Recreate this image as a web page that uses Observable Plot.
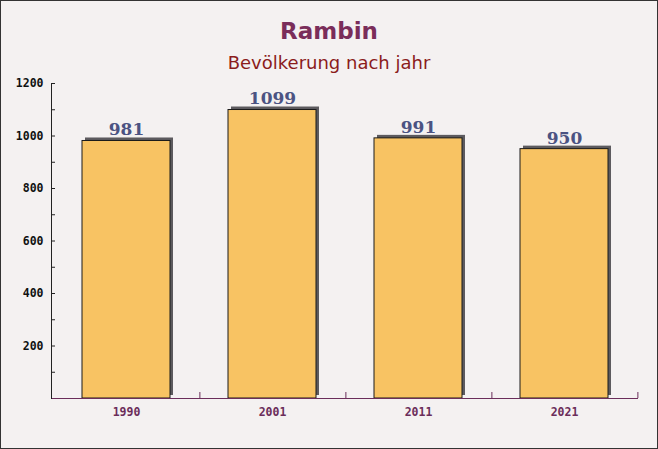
<!DOCTYPE html>
<html><head><meta charset="utf-8">
<script src="https://cdn.jsdelivr.net/npm/d3@7"></script>
<script src="https://cdn.jsdelivr.net/npm/@observablehq/plot@0.6"></script>
<style>
html,body{margin:0;padding:0;}
#wrap{position:relative;width:658px;height:449px;box-sizing:border-box;border:1px solid #333;background:#f4f1f1;overflow:hidden;}
#head{height:74px;text-align:center;font-family:"DejaVu Sans",sans-serif;}
#t{font-weight:bold;font-size:23px;color:#7a2d5a;padding-top:17px;line-height:26px;}
#s{font-size:18px;color:#8b1c1c;margin-top:8px;line-height:22px;}
svg{display:block;}
</style></head><body>
<div id="wrap"><div id="head"><div id="t">Rambin</div><div id="s">Bevölkerung nach jahr</div></div><div id="chart"></div></div>
<script>
const years = ["1990","2001","2011","2021"];
const population = [981, 1099, 991, 950];
const yTicks = [200,400,600,800,1000,1200];
const yMinor = [100,200,300,400,500,600,700,800,900,1000,1100,1200];
const data = years.map((y,i)=>({year:y, pop:population[i]}));

const W = 656, H = 373;
const mL = 50, mR = 19, mT = 8, mB = 50;
const step = (W - mL - mR) / 4;

const chart = Plot.plot({
  width: W, height: H,
  marginLeft: mL, marginRight: mR, marginTop: mT, marginBottom: mB,
  style: {background: "transparent", overflow: "visible"},
  x: {type: "band", domain: years, paddingInner: 0.4, paddingOuter: 0.2, label: null},
  y: {domain: [0, 1200], label: null},
  marks: [
    Plot.barY(data, {x: "year", y: "pop", fill: "#5c5a5e", dx: 3, dy: -3}),
    Plot.barY(data, {x: "year", y: "pop", fill: "#f8c363", stroke: "#1a1a1a", strokeWidth: 1}),
    Plot.text(data, {x: "year", y: "pop", text: d => String(d.pop), dy: -11,
      fill: "#4b5382", fontSize: 17, fontWeight: "bold", fontFamily: "DejaVu Serif, serif"}),
    Plot.tickY(yMinor, {y: d => d, stroke: "#222", insetRight: W - mL - mR - 4}),
    Plot.tickX(years, {x: d => d, dx: step / 2, stroke: "#6b2d5a", insetTop: H - mT - mB - 6}),
    Plot.ruleY([0], {stroke: "#6b2d5a", strokeWidth: 1}),
    Plot.frame({anchor: "left", stroke: "#222"}),
    Plot.axisY({ticks: yTicks, tickFormat: d3.format("d"), tickSize: 0, tickPadding: 8, fontSize: 11.5, fontWeight: "bold",
      fontFamily: "DejaVu Sans Mono, monospace", fill: "#111", label: null}),
    Plot.axisX({tickSize: 0, tickPadding: 9, fontSize: 11.5, fontWeight: "bold",
      fontFamily: "DejaVu Sans Mono, monospace", fill: "#6b2d5a", label: null})
  ]
});
document.getElementById("chart").appendChild(chart);
</script></body></html>
